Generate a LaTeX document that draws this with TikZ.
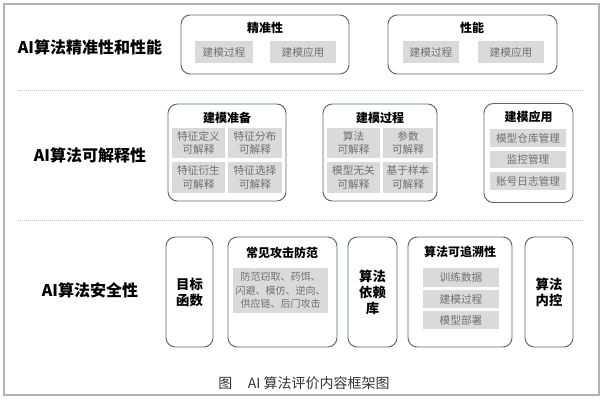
\documentclass[tikz,border=0pt]{standalone}
\usepackage{fontspec}
\setmainfont{Noto Sans CJK SC}
\usepackage{tikz}
\usetikzlibrary{positioning}
\definecolor{bordo}{HTML}{56677A}
\definecolor{grigio}{HTML}{DADADA}
\definecolor{testo}{HTML}{707070}
\tikzstyle{section} = [font=\fontsize{12}{14}\selectfont\bfseries, text=black]
\tikzstyle{panel} = [rectangle, rounded corners=7pt, draw=bordo, line width=0.7pt, minimum height=82.5pt, align=center, font=\fontsize{10}{12}\selectfont\bfseries]
\tikzstyle{heading} = [font=\fontsize{9}{11}\selectfont\bfseries, inner sep=0pt]
\tikzstyle{cell} = [rectangle, fill=grigio, text=testo, inner sep=0pt, minimum height=16.5pt, align=center, font=\fontsize{8}{10}\selectfont]
\tikzstyle{sep} = [gray!50, line width=0.6pt, dash pattern=on 0.6pt off 0.9pt]

\begin{document}
\begin{tikzpicture}[x=0.75pt,y=-0.75pt]
\useasboundingbox (0,0) rectangle (603,400);
\draw[gray!60, line width=0.8pt] (4,4) rectangle (599,395);
\node[section] (s1) at (90,47) {AI算法精准性和性能};
\node[panel, minimum width=126pt, minimum height=44.25pt] (p1) at (265,44.5) {};
\node[heading] (t1) at (265,28) {精准性};
\node[cell, minimum width=43.5pt] (c11) at (224,52) {建模过程};
\node[cell, minimum width=49.5pt] (c12) at (303,52) {建模应用};
\node[panel, minimum width=126.75pt, minimum height=44.25pt] (p2) at (472.5,44.5) {};
\node[heading] (t2) at (472,28) {性能};
\node[cell, minimum width=42pt] (c21) at (431,52) {建模过程};
\node[cell, minimum width=49.5pt] (c22) at (511,52) {建模应用};
\draw[sep] (18,90) -- (583,90);
\node[section] (s2) at (90,155) {AI算法可解释性};
\node[panel, minimum width=88.5pt, minimum height=72.75pt] (p3) at (227,152.5) {};
\node[heading] (t3) at (227,118) {建模准备};
\node[cell, minimum width=39.75pt, minimum height=22.5pt] (c31) at (198.5,143) {特征定义\\可解释};
\node[cell, minimum width=40.5pt, minimum height=22.5pt] (c32) at (255,143) {特征分布\\可解释};
\node[cell, minimum width=39.75pt, minimum height=23.25pt] (c33) at (198.5,177.5) {特征衍生\\可解释};
\node[cell, minimum width=40.5pt, minimum height=23.25pt] (c34) at (255,177.5) {特征选择\\可解释};
\node[panel, minimum width=85.5pt, minimum height=72.75pt] (p4) at (380,152.5) {};
\node[heading] (t4) at (380,118) {建模过程};
\node[cell, minimum width=39.75pt, minimum height=22.5pt] (c41) at (353.5,143) {算法\\可解释};
\node[cell, minimum width=37.5pt, minimum height=22.5pt] (c42) at (408,143) {参数\\可解释};
\node[cell, minimum width=39.75pt, minimum height=23.25pt] (c43) at (353.5,177.5) {模型无关\\可解释};
\node[cell, minimum width=37.5pt, minimum height=23.25pt] (c44) at (408,177.5) {基于样本\\可解释};
\node[panel, minimum width=66.75pt, minimum height=74.25pt] (p5) at (528.5,153) {};
\node[heading] (t5) at (528.5,117) {建模应用};
\node[cell, minimum width=57pt, minimum height=13.5pt] (c51) at (528,138) {模型仓库管理};
\node[cell, minimum width=57pt, minimum height=13pt] (c52) at (528,159.5) {监控管理};
\node[cell, minimum width=57pt, minimum height=13.5pt] (c53) at (528,181) {账号日志管理};
\draw[sep] (18,220) -- (583,220);
\node[section] (s3) at (90,290) {AI算法安全性};
\node[panel, minimum width=35.25pt] (p6) at (189.5,292) {目标\\函数};
\node[panel, minimum width=81.75pt] (p7) at (282.5,292) {};
\node[heading] (t7) at (282,253) {常见攻击防范};
\node[cell, minimum width=71.25pt, minimum height=33.75pt, font=\fontsize{7.5}{10}\selectfont] (c71) at (280.5,290.5) {防范窃取、药饵、\\闪避、模仿、逆向、\\供应链、后门攻击};
\node[panel, minimum width=36.75pt] (p8) at (372.5,292) {算法\\依赖\\库};
\node[panel, minimum width=78pt] (p9) at (460,292) {};
\node[heading] (t9) at (460,252) {算法可追溯性};
\node[cell, minimum width=57pt, minimum height=14.25pt] (c91) at (461,277.5) {训练数据};
\node[cell, minimum width=57pt, minimum height=13.5pt] (c92) at (461,299) {建模过程};
\node[cell, minimum width=57pt, minimum height=13.5pt] (c93) at (461,320) {模型部署};
\node[panel, minimum width=36pt] (p10) at (549,292) {算法\\内控};
\node[text=black!80, font=\fontsize{10.5}{12}\selectfont] (cap) at (304,383) {图\hspace{1.1em}AI 算法评价内容框架图};
\end{tikzpicture}
\end{document}
